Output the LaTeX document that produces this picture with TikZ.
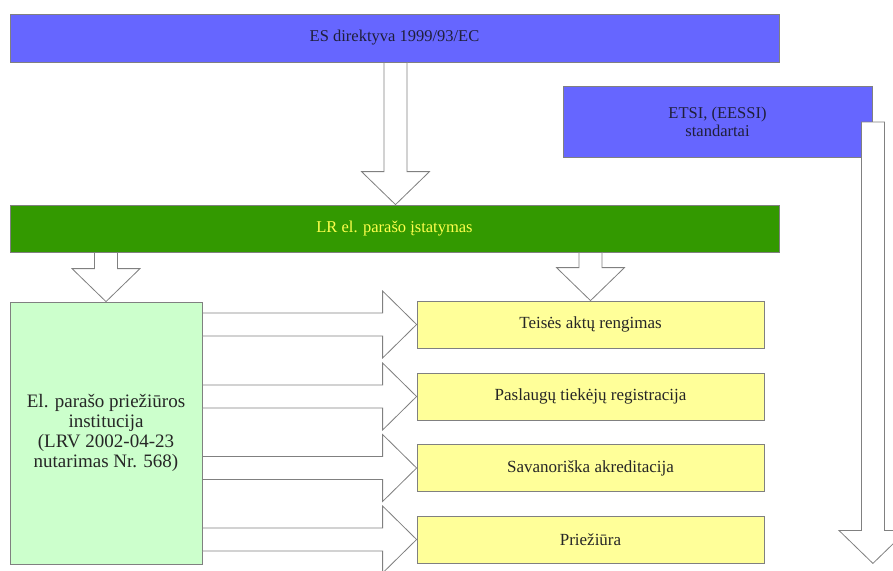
\documentclass[tikz,border=0pt]{standalone}
\usepackage{fontspec}
\setmainfont{Liberation Serif}
\usetikzlibrary{calc}
\definecolor{esblue}{HTML}{6666FF}
\definecolor{lrgreen}{HTML}{339900}
\definecolor{instgreen}{HTML}{CCFFCC}
\definecolor{boxyellow}{HTML}{FFFF99}
\definecolor{edgegray}{HTML}{808080}
\definecolor{lrtext}{HTML}{FFFF4D}
\definecolor{darktext}{HTML}{1F1F3A}
\definecolor{bodytext}{HTML}{262626}
\tikzset{
  box/.style={draw=edgegray, line width=0.8pt, rectangle, inner sep=0pt, align=center},
  wide/.style={box, minimum width=769pt, minimum height=48pt},
  task/.style={box, fill=boxyellow, minimum width=347pt, minimum height=47pt,
    text=bodytext, font=\fontsize{17}{18}\selectfont},
  blk/.style={draw=edgegray, line width=0.8pt, fill=white, line join=miter},
  blockdown/.style={blk, to path={let \p1=(\tikztostart), \p2=(\tikztotarget) in
    (\x1-11.5pt,\y1) -- (\x1-11.5pt,\y2+33pt) -- (\x1-34pt,\y2+33pt) -- (\x1,\y2)
    -- (\x1+34pt,\y2+33pt) -- (\x1+11.5pt,\y2+33pt) -- (\x1+11.5pt,\y1) -- cycle}},
  blockright/.style={blk, to path={let \p1=(\tikztostart), \p2=(\tikztotarget) in
    (\x1,\y1+11.5pt) -- (\x2-34pt,\y1+11.5pt) -- (\x2-34pt,\y1+33.5pt) -- (\x2,\y2)
    -- (\x2-34pt,\y1-33.5pt) -- (\x2-34pt,\y1-11.5pt) -- (\x1,\y1-11.5pt) -- cycle}},
}
\begin{document}
\begin{tikzpicture}[x=1pt,y=-1pt]
\fill[white] (0,0) rectangle (893,570);
\useasboundingbox (0,0) rectangle (893,570);
\clip (0,0) rectangle (893,570);

% boxes
\node[wide, fill=esblue, text=darktext, font=\fontsize{16.5}{17}\selectfont] (es) at (394.5,38) {ES direktyva 1999/93/EC};
\node[wide, fill=lrgreen, minimum height=47pt, text=lrtext, font=\fontsize{16.5}{17}\selectfont] (lr) at (394.5,228.5) {LR el. parašo įstatymas};
\node[box, fill=esblue, minimum width=309pt, minimum height=71pt, text=darktext, font=\fontsize{16.5}{18}\selectfont] (etsi) at (717.5,121.5) {ETSI, (EESSI)\\standartai};
\node[box, fill=instgreen, minimum width=192pt, minimum height=262pt, text=bodytext, font=\fontsize{19}{20}\selectfont] (inst) at (106,433) {El. parašo priežiūros\\institucija\\(LRV 2002-04-23\\nutarimas Nr. 568)};
\node[task] (t1) at (590.5,324.5) {Teisės aktų rengimas};
\node[task] (t2) at (590.5,396.5) {Paslaugų tiekėjų registracija};
\node[task] (t3) at (590.5,468) {Savanoriška akreditacija};
\node[task] (t4) at (590.5,539.5) {Priežiūra};

% helper coordinates
\coordinate (a0) at ($(es.south)+(1,0)$);
\coordinate (a1) at ($(lr.north)+(1,0)$);
\coordinate (b0) at (lr.south -| inst.north);
\coordinate (c0) at (lr.south -| t1.north);
\coordinate (d0) at ($(etsi.east)+(0.5,0.5)$);
\coordinate (d1) at (d0 |- t4.south);
\coordinate (e1) at (inst.east |- t1.west);
\coordinate (e2) at (inst.east |- t2.west);
\coordinate (e3) at (inst.east |- t3.west);
\coordinate (e4) at (inst.east |- t4.west);

% block arrows
\draw[blockdown] (a0) to (a1);
\draw[blockdown] (b0) to (inst.north);
\draw[blockdown] (c0) to (t1.north);
\draw[blockdown] (d0) to (d1);
\draw[blockright] (e1) to (t1.west);
\draw[blockright] (e2) to (t2.west);
\draw[blockright] (e3) to (t3.west);
\draw[blockright] (e4) to (t4.west);
\end{tikzpicture}
\end{document}
